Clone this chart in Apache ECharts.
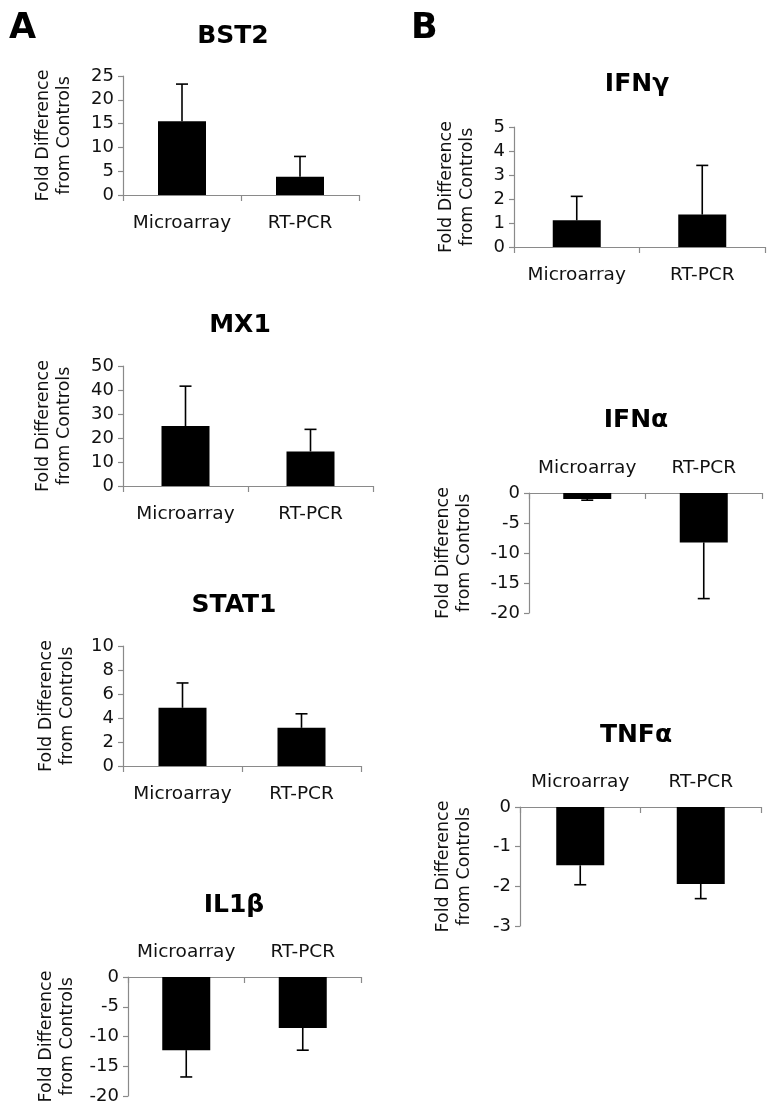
<!DOCTYPE html>
<html><head><meta charset="utf-8">
<script src="https://cdn.jsdelivr.net/npm/echarts@6/dist/echarts.min.js"></script>
<style>html,body{margin:0;padding:0;background:#fff}#c{width:768px;height:1110px}</style>
</head><body><div id="c"></div>
<script>
const categories = ['Microarray', 'RT-PCR'];
const panelTitles = ['BST2', 'MX1', 'STAT1', 'IL1β', 'IFNγ', 'IFNα', 'TNFα'];
const panelLetters = ['A', 'B'];
const axisName = 'Fold Difference\nfrom Controls';

// bar values and one-sided error magnitudes
const bst2Values = [15.5, 3.85];   const bst2Errors = [7.8, 4.25];
const mx1Values = [25.0, 14.4];    const mx1Errors = [16.6, 9.2];
const stat1Values = [4.85, 3.18];  const stat1Errors = [2.07, 1.17];
const il1bValues = [-12.3, -8.56]; const il1bErrors = [4.5, 3.74];
const ifngValues = [1.11, 1.35];   const ifngErrors = [1.0, 2.05];
const ifnaValues = [-1.0, -8.23];  const ifnaErrors = [0.2, 9.37];
const tnfaValues = [-1.47, -1.94]; const tnfaErrors = [0.49, 0.37];

// y axis ticks: [min, max, interval]
const bst2Ticks = [0, 25, 5];
const mx1Ticks = [0, 50, 10];
const stat1Ticks = [0, 10, 2];
const il1bTicks = [-20, 0, 5];
const ifngTicks = [0, 5, 1];
const ifnaTicks = [-20, 0, 5];
const tnfaTicks = [-3, 0, 1];

const panels = [
  {values: bst2Values, errors: bst2Errors, ticks: bst2Ticks},
  {values: mx1Values, errors: mx1Errors, ticks: mx1Ticks},
  {values: stat1Values, errors: stat1Errors, ticks: stat1Ticks},
  {values: il1bValues, errors: il1bErrors, ticks: il1bTicks},
  {values: ifngValues, errors: ifngErrors, ticks: ifngTicks},
  {values: ifnaValues, errors: ifnaErrors, ticks: ifnaTicks},
  {values: tnfaValues, errors: tnfaErrors, ticks: tnfaTicks}
];

// layout (px)
const grids = [
  {left: 123, top: 76, width: 236, height: 119},
  {left: 123, top: 366, width: 250, height: 120},
  {left: 123, top: 646, width: 238, height: 120},
  {left: 128, top: 977, width: 233, height: 119},
  {left: 514, top: 127, width: 251, height: 120},
  {left: 529, top: 493, width: 233, height: 120},
  {left: 520, top: 807, width: 241, height: 119}
];
const titlePos = [[228, 33], [235, 322], [229, 602], [229, 902], [632, 81], [631, 417], [631, 732]];
const nameGaps = [48, 48, 45, 50, 36, 54, 45];

const FONT = 'DejaVu Sans';
const AXIS_COLOR = '#8a8a8a';
const TEXT_COLOR = '#111';

const option = {
  backgroundColor: '#fff',
  animation: false,
  title: [],
  grid: [], xAxis: [], yAxis: [], series: []
};

panelLetters.forEach((L, i) => {
  option.title.push({
    text: L, left: i === 0 ? 4 : 406, top: 6,
    textStyle: {fontFamily: FONT, fontWeight: 'bold', fontSize: 35, color: '#000'}
  });
});

panels.forEach((p, i) => {
  const neg = p.ticks[1] <= 0;
  option.title.push({
    text: panelTitles[i], left: titlePos[i][0], top: titlePos[i][1] - 14, textAlign: 'center',
    textStyle: {fontFamily: FONT, fontWeight: 'bold', fontSize: 25, color: '#000'}
  });
  option.grid.push(Object.assign({containLabel: false}, grids[i]));
  option.xAxis.push({
    type: 'category', gridIndex: i, data: categories,
    position: neg ? 'top' : 'bottom',
    axisLine: {show: true, onZero: false, lineStyle: {color: AXIS_COLOR, width: 1.2}},
    axisTick: {show: true, inside: neg, length: 6, alignWithLabel: false, interval: 0, lineStyle: {color: AXIS_COLOR, width: 1.2}},
    axisLabel: {fontFamily: FONT, fontSize: 18.5, color: TEXT_COLOR, margin: neg ? 15 : 19, interval: 0, hideOverlap: false},
    splitLine: {show: false}
  });
  option.yAxis.push({
    type: 'value', gridIndex: i, min: p.ticks[0], max: p.ticks[1], interval: p.ticks[2],
    name: axisName, nameLocation: 'middle', nameGap: nameGaps[i],
    nameTextStyle: {fontFamily: FONT, fontSize: 17.5, color: TEXT_COLOR, lineHeight: 21, align: 'center'},
    axisLine: {show: true, lineStyle: {color: AXIS_COLOR, width: 1.2}},
    axisTick: {show: true, length: 5, lineStyle: {color: AXIS_COLOR, width: 1.2}},
    axisLabel: {fontFamily: FONT, fontSize: 18, color: TEXT_COLOR, margin: 9},
    splitLine: {show: false}
  });
  option.series.push({
    type: 'bar', xAxisIndex: i, yAxisIndex: i, data: p.values, barWidth: 48,
    itemStyle: {color: '#000'}, silent: true
  });
  option.series.push({
    type: 'custom', xAxisIndex: i, yAxisIndex: i, z: 5, silent: true,
    data: p.values.map((v, k) => [k, v, p.errors[k]]),
    renderItem: function (params, api) {
      const x = api.value(0), v = api.value(1), e = api.value(2);
      const end = v + (v >= 0 ? e : -e);
      const p0 = api.coord([x, v]);
      const p1 = api.coord([x, end]);
      const half = 6;
      const st = {stroke: '#000', lineWidth: 1.6};
      return {type: 'group', children: [
        {type: 'line', shape: {x1: p0[0], y1: p0[1], x2: p1[0], y2: p1[1]}, style: st},
        {type: 'line', shape: {x1: p1[0] - half, y1: p1[1], x2: p1[0] + half, y2: p1[1]}, style: st}
      ]};
    }
  });
});

const chart = echarts.init(document.getElementById('c'), null, {renderer: 'canvas'});
chart.setOption(option);
</script>
</body></html>
